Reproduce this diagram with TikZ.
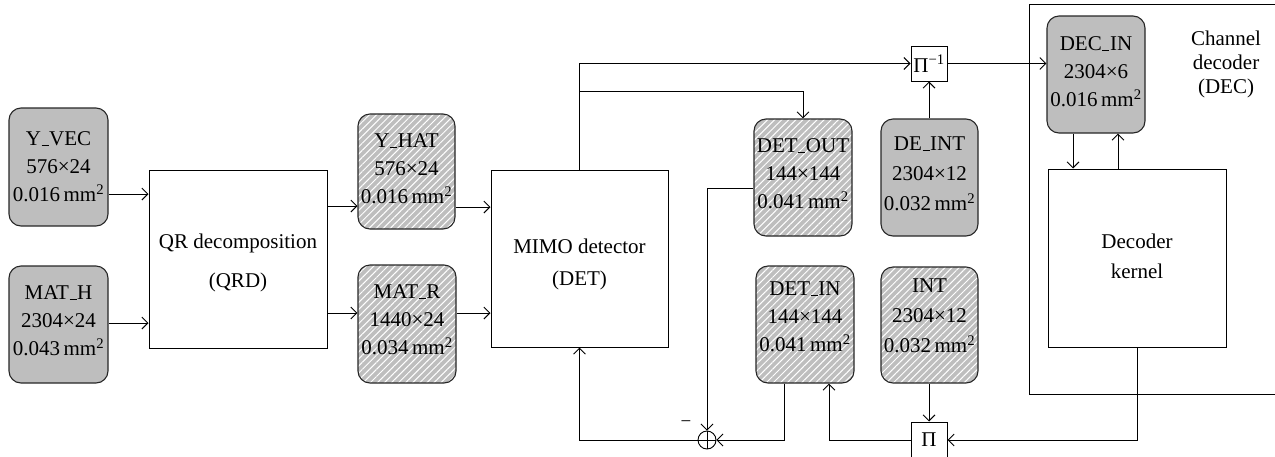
\documentclass[tikz,border=0pt]{standalone}
\usepackage{fontspec}
\setmainfont{Liberation Serif}
\usetikzlibrary{arrows.meta,patterns.meta}
\definecolor{boxgray}{RGB}{190,190,190}
\newcommand\myus{\kern0.6pt\rule[-0.3pt]{7pt}{1.4pt}\kern0.6pt}
\begin{document}
\begin{tikzpicture}[x=1pt,y=-1pt,line width=0.9pt,
  arr/.style={-{Straight Barb[length=6pt,width=12pt]}},
  mem/.style={draw=black!85,line width=1.1pt,rounded corners=12pt,fill=boxgray,inner sep=0pt},
  hatch/.style={draw=black!85,line width=1.1pt,rounded corners=12pt,inner sep=0pt,
    preaction={fill=boxgray},pattern={Lines[angle=45,distance=5pt,line width=1pt]},pattern color=white},
  lbl/.style={font=\fontsize{21}{28}\selectfont,align=center,inner sep=0pt},
  blk/.style={draw,line width=1pt,inner sep=0pt,fill=white,align=center,font=\fontsize{21}{29}\selectfont}]
\useasboundingbox (0,0) rectangle (1275,456);

% channel decoder container
\node[draw,line width=1pt,minimum width=260pt,minimum height=390pt,inner sep=0pt] (dec) at (1159,199) {};
\node[lbl,font=\fontsize{21}{24}\selectfont] (dect) at (1226,64) {Channel\\decoder\\(DEC)};

% memory boxes
\node[mem,minimum width=99pt,minimum height=118pt] (yvec) at (58.5,167) {};
\node[lbl] (yvect) at (yvec) {Y\myus VEC\\576×24\\0.016\,mm\textsuperscript{2}};
\node[mem,minimum width=99pt,minimum height=117pt] (math) at (58.5,324.5) {};
\node[lbl] (matht) at (58.5,321) {MAT\myus H\\2304×24\\0.043\,mm\textsuperscript{2}};
\node[hatch,minimum width=97pt,minimum height=115pt] (yhat) at (406.5,171.5) {};
\node[lbl] (yhatt) at (406.5,169) {Y\myus HAT\\576×24\\0.016\,mm\textsuperscript{2}};
\node[hatch,minimum width=98pt,minimum height=118pt] (matr) at (407,324) {};
\node[lbl] (matrt) at (407,320) {MAT\myus R\\1440×24\\0.034\,mm\textsuperscript{2}};
\node[hatch,minimum width=98pt,minimum height=117pt] (detout) at (803,177.5) {};
\node[lbl] (detoutt) at (803,174) {DET\myus OUT\\144×144\\0.041\,mm\textsuperscript{2}};
\node[hatch,minimum width=98pt,minimum height=117pt] (detin) at (805,324.5) {};
\node[lbl] (detint) at (805,317) {DET\myus IN\\144×144\\0.041\,mm\textsuperscript{2}};
\node[mem,minimum width=97pt,minimum height=117pt] (deint) at (929.5,177.5) {};
\node[lbl,font=\fontsize{21}{30}\selectfont] (deintt) at (929.5,174) {DE\myus INT\\2304×12\\0.032\,mm\textsuperscript{2}};
\node[hatch,minimum width=97pt,minimum height=116pt] (int) at (929.5,325) {};
\node[lbl,font=\fontsize{21}{30}\selectfont] (intt) at (929.5,316) {INT\\2304×12\\0.032\,mm\textsuperscript{2}};
\node[mem,minimum width=98pt,minimum height=117pt] (decin) at (1096,74.5) {};
\node[lbl] (decint) at (1096,72) {DEC\myus IN\\2304×6\\0.016\,mm\textsuperscript{2}};

% processing blocks
\node[blk,minimum width=178pt,minimum height=178pt] (qrd) at (238,259) {};
\node[lbl] (qrdt) at (238,263) {QR decomposition\\[11pt](QRD)};
\node[blk,minimum width=177pt,minimum height=177pt] (det) at (579.5,258.5) {};
\node[lbl] (dett) at (579.5,264) {MIMO detector\\[4pt](DET)};
\node[blk,minimum width=178pt,minimum height=178pt] (kernel) at (1137,258) {};
\node[lbl,font=\fontsize{21}{30}\selectfont] (kernelt) at (1137,256) {Decoder\\kernel};
\node[blk,minimum width=36pt,minimum height=35pt] (pinv) at (929,63.5) {Π\textsuperscript{−1}};
\node[blk,minimum width=36pt,minimum height=36pt] (pi) at (929,440) {Π};

% adder
\node[draw,circle,minimum size=18pt,inner sep=0pt,line width=0.9pt] (adder) at (707,440) {};
\draw (adder.north) -- (adder.south) (adder.west) -- (adder.east);
\node[font=\fontsize{19}{19}\selectfont,inner sep=0pt] (minus) at (686,424) {−};

% connectors
\draw[arr] (yvec.east |- 0,194) -- (qrd.west |- 0,194);
\draw[arr] (math.east |- 0,323) -- (qrd.west |- 0,323);
\draw[arr] (qrd.east |- 0,206) -- (yhat.west |- 0,206);
\draw[arr] (qrd.east |- 0,313) -- (matr.west |- 0,313);
\draw[arr] (yhat.east |- 0,207) -- (det.west |- 0,207);
\draw[arr] (matr.east |- 0,313) -- (det.west |- 0,313);
\draw[arr] (det.north) |- (pinv.west);
\draw[arr] (det.north |- 0,91) -| (detout.north);
\draw[arr] (pinv.east) -- (pinv.east -| decin.west);
\draw[arr] (deint.north -| pinv.south) -- (pinv.south);
\draw[arr] (decin.south -| 1073,0) -- (kernel.north -| 1073,0);
\draw[arr] (kernel.north -| 1118,0) -- (decin.south -| 1118,0);
\draw[arr] (detout.west |- 0,188) -| (adder.north);
\draw[arr] (detin.south -| 784,0) |- (adder.east);
\draw[arr] (adder.west) -| (det.south);
\draw[arr] (kernel.south) |- (pi.east);
\draw[arr] (pi.west) -| (detin.south -| 829,0);
\draw[arr] (int.south -| pi.north) -- (pi.north);
\end{tikzpicture}
\end{document}
